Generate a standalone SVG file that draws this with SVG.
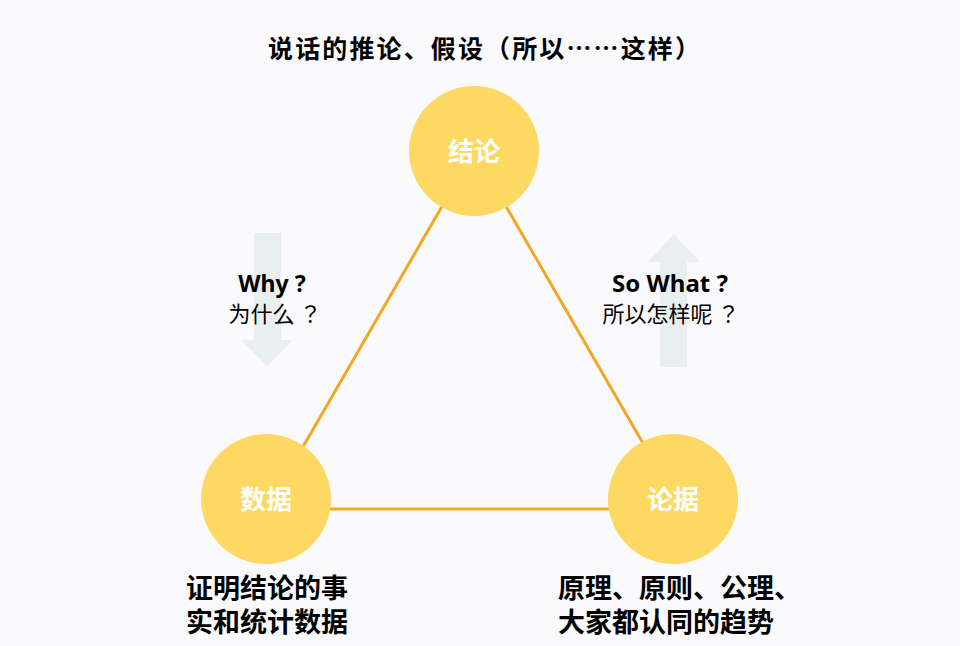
<svg xmlns="http://www.w3.org/2000/svg" width="960" height="646" viewBox="0 0 960 646">
<style>
.t{font-family:"Noto Sans","Noto Sans CJK SC",sans-serif;fill:#000}
.c{font-family:"Noto Sans CJK JP","Noto Sans CJK SC",sans-serif;fill:#000}
.b{font-weight:bold}
.n{fill:#FDD862}
.nl{font-family:"Noto Sans CJK SC",sans-serif;font-weight:bold;font-size:26px;fill:#fff}
.edge{stroke:#F2A623;stroke-width:3;fill:none}
.arr{fill:#E9EEF0}
</style>
<rect width="960" height="646" fill="#FAFAFD"/>
<text class="c b" x="268" y="58" font-size="25" textLength="432" lengthAdjust="spacing">说话的推论、假设（所以……这样）</text>
<path class="arr" d="M254 233H281V340H293L267 366L241 340H254Z"/>
<path class="arr" d="M660 367H687V262H700L674 234L648 262H660Z"/>
<text class="t b" x="272" y="292" font-size="23" text-anchor="middle">Why ?</text>
<text class="c" x="275" y="322" font-size="22" text-anchor="middle">为什么 ？</text>
<text class="t b" x="670" y="292" font-size="24" text-anchor="middle">So What ?</text>
<text class="c" x="671" y="322" font-size="22" text-anchor="middle">所以怎样呢 ？</text>
<g id="connectors">
<path class="edge" d="M474 151L267 509H681Z"/>
</g>
<g id="node-conclusion">
<circle class="n" cx="474" cy="151" r="65"/>
<text class="nl" x="474" y="161" text-anchor="middle">结论</text>
</g>
<g id="node-data">
<circle class="n" cx="266" cy="499" r="65"/>
<text class="nl" x="266" y="509" text-anchor="middle">数据</text>
</g>
<g id="node-argument">
<circle class="n" cx="673" cy="499" r="65"/>
<text class="nl" x="673" y="509" text-anchor="middle">论据</text>
</g>
<text class="t b" x="186" y="598" font-size="27">证明结论的事</text>
<text class="t b" x="186" y="632" font-size="27">实和统计数据</text>
<text class="t b" x="558" y="598" font-size="27">原理、原则、公理、</text>
<text class="t b" x="558" y="632" font-size="27">大家都认同的趋势</text>
</svg>
